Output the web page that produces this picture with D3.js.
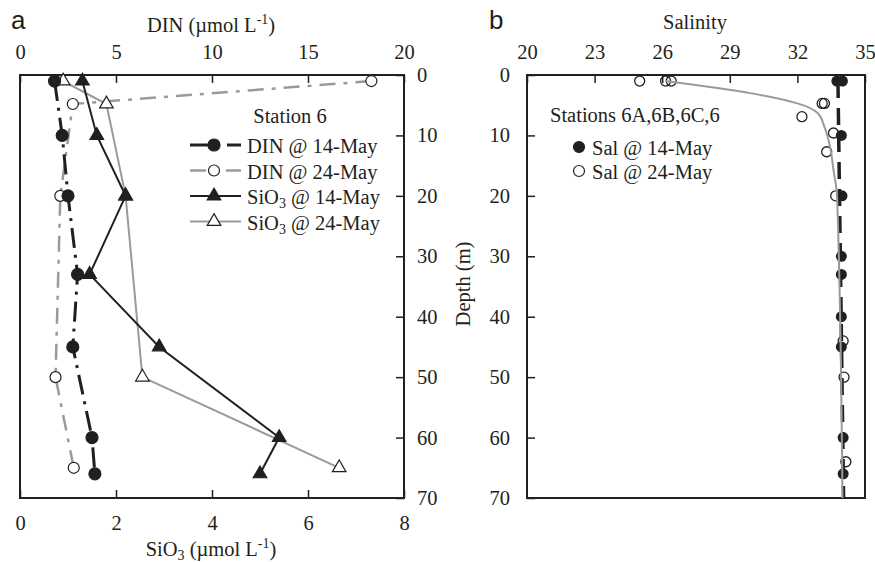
<!DOCTYPE html>
<html>
<head>
<meta charset="utf-8">
<script src="https://cdn.jsdelivr.net/npm/d3@7"></script>
<style>
  body { margin: 0; background: #fff; }
  svg { display: block; font-family: "Liberation Serif", "Times New Roman", serif; }
  .tick text { font-size: 20.5px; fill: #231f20; font-family: "Liberation Serif", "Times New Roman", serif; }
  .tick line { stroke: #231f20; stroke-width: 1.5; }
</style>
</head>
<body>
<div id="chart"></div>
<script>
// ---- panel a: Station 6 nutrient profiles ----
const din14Depth = [1, 10, 20, 33, 45, 60, 66];
const din14 = [1.8, 2.2, 2.5, 3.0, 2.75, 3.75, 3.9];
const din24Depth = [1, 4.8, 20, 50, 65];
const din24 = [18.3, 2.75, 2.1, 1.85, 2.8];
const sio14Depth = [1, 10, 20, 33, 45, 60, 66];
const sio14 = [1.3, 1.6, 2.2, 1.45, 2.9, 5.4, 5.0];
const sio24Depth = [1, 4.8, 20, 50, 65];
const sio24 = [0.9, 1.8, 2.2, 2.55, 6.65];

const dinTicks = [0, 5, 10, 15, 20];
const sioTicks = [0, 2, 4, 6, 8];
const depthTicks = [0, 10, 20, 30, 40, 50, 60, 70];

// ---- panel b: salinity, stations 6A,6B,6C,6 ----
const sal14Depth = [1, 1, 10, 20, 30, 33, 40, 45, 60, 66];
const sal14 = [33.75, 34.0, 33.95, 33.98, 33.95, 33.95, 33.95, 33.95, 34.03, 34.03];
const sal24Depth = [1, 1, 1, 4.7, 4.7, 6.9, 9.6, 12.7, 20, 44, 50, 64];
const sal24 = [25.0, 26.15, 26.4, 33.1, 33.2, 32.2, 33.6, 33.3, 33.7, 34.03, 34.07, 34.15];
// fitted profiles drawn as lines
const fit24 = [[26.15, 1], [29.9, 3], [32.0, 4.7], [32.9, 6.3], [33.2, 8.6], [33.45, 11.9], [33.6, 15.7], [33.76, 20], [34.0, 70]];
const fit14 = [[33.8, 1], [34.05, 70]];
const salTicks = [20, 23, 26, 29, 32, 35];

const W = 875, H = 562;
const ink = "#231f20", grey = "#9a9a9a";
const fs = 20.5;

const svg = d3.select("#chart").append("svg").attr("width", W).attr("height", H);

// scales, panel a
const pa = { left: 20, right: 404, top: 75, bottom: 498 };
const xDin = d3.scaleLinear().domain([0, 20]).range([pa.left, pa.right]);
const xSio = d3.scaleLinear().domain([0, 8]).range([pa.left, pa.right]);
const yA = d3.scaleLinear().domain([0, 70]).range([pa.top, pa.bottom]);

// scales, panel b
const pb = { left: 527, right: 865, top: 75, bottom: 498 };
const xSal = d3.scaleLinear().domain([20, 35]).range([pb.left, pb.right]);
const yB = d3.scaleLinear().domain([0, 70]).range([pb.top, pb.bottom]);

function cleanAxis(g) {
  g.select(".domain").remove();
  g.selectAll(".tick text").attr("fill", ink);
}

// axes panel a
svg.append("g").attr("transform", `translate(0,${pa.top})`)
  .call(d3.axisTop(xDin).tickValues(dinTicks).tickSize(-8).tickPadding(16).tickFormat(d3.format("d")))
  .call(cleanAxis);
svg.append("g").attr("transform", `translate(0,${pa.bottom})`)
  .call(d3.axisBottom(xSio).tickValues(sioTicks).tickSize(-8).tickPadding(17).tickFormat(d3.format("d")))
  .call(cleanAxis);
svg.append("g").attr("transform", `translate(${pa.right},0)`)
  .call(d3.axisRight(yA).tickValues(depthTicks).tickSize(-8).tickPadding(13))
  .call(cleanAxis);

// axes panel b
svg.append("g").attr("transform", `translate(0,${pb.top})`)
  .call(d3.axisTop(xSal).tickValues(salTicks).tickSize(-8).tickPadding(16))
  .call(cleanAxis);
svg.append("g").attr("transform", `translate(${pb.left},0)`)
  .call(d3.axisLeft(yB).tickValues(depthTicks).tickSize(-8).tickPadding(17))
  .call(cleanAxis);

// frames
[pa, pb].forEach(p => {
  svg.append("rect")
    .attr("x", p.left).attr("y", p.top)
    .attr("width", p.right - p.left).attr("height", p.bottom - p.top)
    .attr("fill", "none").attr("stroke", ink).attr("stroke-width", 2);
});

// axis titles
function unitTitle(x, y, name, sub) {
  const t = svg.append("text").attr("x", x).attr("y", y)
    .attr("text-anchor", "middle").attr("font-size", fs).attr("fill", ink);
  t.append("tspan").text(name);
  if (sub) t.append("tspan").attr("font-size", 14).attr("dy", 4).text(sub);
  t.append("tspan").attr("dy", sub ? -4 : 0).text(" (\u00b5mol L");
  t.append("tspan").attr("font-size", 14).attr("dy", -8).text("-1");
  t.append("tspan").attr("dy", 8).text(")");
}
unitTitle(211, 32, "DIN");
unitTitle(211, 556, "SiO", "3");

svg.append("text").attr("x", 695).attr("y", 29).attr("text-anchor", "middle")
  .attr("font-size", fs).attr("fill", ink).text("Salinity");
svg.append("text").attr("transform", "translate(470,284) rotate(-90)")
  .attr("text-anchor", "middle").attr("font-size", fs).attr("fill", ink).text("Depth (m)");

svg.append("text").attr("x", 11).attr("y", 29).attr("font-family", "Liberation Sans, Arial, sans-serif")
  .attr("font-size", 26).attr("fill", ink).text("a");
svg.append("text").attr("x", 489).attr("y", 29).attr("font-family", "Liberation Sans, Arial, sans-serif")
  .attr("font-size", 26).attr("fill", ink).text("b");

// series definitions, panel a
const dashDin14 = "20,7,3,7";
const dashDin24 = "16,8,4,8";
const seriesA = [
  { vals: din24, depth: din24Depth, x: xDin, color: grey, width: 2.5, dash: dashDin24, mark: "circle", fill: "#fff", label: "DIN @ 24-May" },
  { vals: sio24, depth: sio24Depth, x: xSio, color: grey, width: 2, dash: null, mark: "triangle", fill: "#fff", label: "SiO", sub: "3", tail: " @ 24-May" },
  { vals: sio14, depth: sio14Depth, x: xSio, color: ink, width: 2, dash: null, mark: "triangle", fill: ink, label: "SiO", sub: "3", tail: " @ 14-May" },
  { vals: din14, depth: din14Depth, x: xDin, color: ink, width: 3, dash: dashDin14, mark: "circle", fill: ink, label: "DIN @ 14-May" }
];

const plotA = svg.append("g");

function marker(g, kind, fill, x, y) {
  if (kind === "circle") {
    g.append("circle").attr("cx", x).attr("cy", y).attr("r", fill === "#fff" ? 5.5 : 6)
      .attr("fill", fill).attr("stroke", ink).attr("stroke-width", 1.2);
  } else {
    g.append("path").attr("d", d3.symbol(d3.symbolTriangle, 80)())
      .attr("transform", `translate(${x},${y})`)
      .attr("fill", fill).attr("stroke", ink).attr("stroke-width", 1.2);
  }
}

seriesA.forEach(s => {
  const pts = s.vals.map((v, i) => [s.x(v), yA(s.depth[i])]);
  plotA.append("path").datum(pts)
    .attr("d", d3.line())
    .attr("fill", "none").attr("stroke", s.color).attr("stroke-width", s.width)
    .attr("stroke-dasharray", s.dash);
});
seriesA.forEach(s => {
  s.vals.forEach((v, i) => marker(plotA, s.mark, s.fill, s.x(v), yA(s.depth[i])));
});

// legend, panel a
const legA = svg.append("g");
legA.append("text").attr("x", 290).attr("y", 123).attr("text-anchor", "middle")
  .attr("font-size", fs).attr("fill", ink).text("Station 6");
const legOrder = [seriesA[3], seriesA[0], seriesA[2], seriesA[1]];
legOrder.forEach((s, i) => {
  const cy = 145 + i * 25.5;
  legA.append("line").attr("x1", 190).attr("x2", 241).attr("y1", cy).attr("y2", cy)
    .attr("stroke", s.color).attr("stroke-width", s.width).attr("stroke-dasharray", s.dash);
  marker(legA, s.mark, s.fill, 214, cy);
  const t = legA.append("text").attr("x", 247).attr("y", cy + 8).attr("font-size", fs).attr("fill", ink);
  t.append("tspan").text(s.label);
  if (s.sub) {
    t.append("tspan").attr("font-size", 14).attr("dy", 4).text(s.sub);
    t.append("tspan").attr("dy", -4).text(s.tail);
  }
});

// panel b
const plotB = svg.append("g");
plotB.append("path").datum(fit14)
  .attr("d", d3.line().x(d => xSal(d[0])).y(d => yB(d[1])))
  .attr("fill", "none").attr("stroke", ink).attr("stroke-width", 3.5).attr("stroke-dasharray", "17,10");

sal14.forEach((v, i) => {
  plotB.append("circle").attr("cx", xSal(v)).attr("cy", yB(sal14Depth[i])).attr("r", 5.5).attr("fill", ink);
});
sal24.forEach((v, i) => {
  plotB.append("circle").attr("cx", xSal(v)).attr("cy", yB(sal24Depth[i])).attr("r", 5)
    .attr("fill", "none").attr("stroke", ink).attr("stroke-width", 1.3);
});

plotB.append("path").datum(fit24)
  .attr("d", d3.line().x(d => xSal(d[0])).y(d => yB(d[1])).curve(d3.curveMonotoneY))
  .attr("fill", "none").attr("stroke", grey).attr("stroke-width", 2);

// legend, panel b
const legB = svg.append("g");
legB.append("text").attr("x", 550).attr("y", 122).attr("font-size", fs).attr("fill", ink).text("Stations 6A,6B,6C,6");
[["Sal @ 14-May", ink], ["Sal @ 24-May", "#fff"]].forEach((d, i) => {
  const cy = 147 + i * 24;
  legB.append("circle").attr("cx", 579).attr("cy", cy).attr("r", 5.5)
    .attr("fill", d[1]).attr("stroke", ink).attr("stroke-width", 1.2);
  legB.append("text").attr("x", 592).attr("y", cy + 8).attr("font-size", fs).attr("fill", ink).text(d[0]);
});
</script>
</body>
</html>
